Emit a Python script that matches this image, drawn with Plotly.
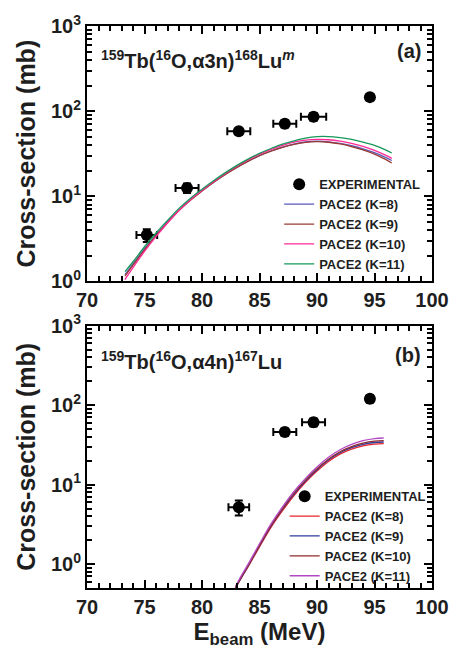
import plotly.graph_objects as go

# ---- panel (a): 159Tb(16O,a3n)168Lu^m ----
a_exp_e = [75.2, 78.7, 83.2, 87.2, 89.7, 94.6]
a_exp_sigma = [3.5, 12.5, 58, 71, 86, 146]
a_exp_dsigma = [0.6, 1.6, 5, 7, 9, 10]
a_exp_de = [0.9, 1.0, 1.0, 1.0, 1.1, 0.3]

a_calc_e = [73.3, 74, 75, 76, 77, 78, 79, 80, 81, 82, 83, 84, 85, 86, 87, 88,
            89, 90, 91, 92, 93, 94, 95, 96, 96.5]
a_k8 = [1.2, 1.6, 2.4, 3.5, 5.0, 6.9, 9.1, 11.6, 14.6, 18.0, 21.8, 25.8, 30.0,
        34.0, 37.8, 41.0, 43.4, 44.3, 43.6, 41.8, 39.2, 36.1, 32.5, 28.4, 26.3]
a_k9 = [1.15, 1.55, 2.35, 3.45, 4.9, 6.8, 9.0, 11.5, 14.5, 17.9, 21.7, 25.7,
        29.9, 33.8, 37.5, 40.6, 42.9, 43.8, 43.1, 41.2, 38.4, 35.1, 31.3, 26.9, 24.6]
a_k10 = [1.05, 1.45, 2.25, 3.35, 4.85, 6.8, 9.1, 11.7, 14.8, 18.4, 22.5, 26.8,
         31.2, 35.5, 39.7, 43.1, 45.6, 46.6, 46.1, 44.4, 41.8, 38.5, 34.6, 30.2, 27.9]
a_k11 = [1.3, 1.7, 2.55, 3.7, 5.2, 7.2, 9.5, 12.1, 15.2, 18.8, 22.9, 27.3,
         31.9, 36.4, 40.9, 44.8, 48.2, 50.2, 50.3, 48.9, 46.5, 43.3, 39.6, 34.9, 32.2]

# ---- panel (b): 159Tb(16O,a4n)167Lu ----
b_exp_e = [83.2, 87.2, 89.7, 94.6]
b_exp_sigma = [5.2, 46, 61, 120]
b_exp_dsigma = [1.1, 5, 7, 13]
b_exp_de = [0.9, 1.0, 1.0, 0.3]

b_calc_e = [82.9, 83.5, 84, 85, 86, 87, 88, 89, 90, 91, 92, 93, 94, 95, 95.8]
b_k8 = [0.5, 0.7, 0.92, 1.65, 2.9, 4.7, 7.3, 10.7, 14.8, 19.6, 24.2, 28.0, 30.8, 32.4, 32.8]
b_k9 = [0.5, 0.71, 0.94, 1.7, 3.0, 4.9, 7.6, 11.1, 15.4, 20.4, 25.2, 29.2, 32.2, 33.9, 34.4]
b_k10 = [0.5, 0.72, 0.95, 1.72, 3.05, 5.0, 7.8, 11.4, 15.8, 20.9, 25.9, 30.1, 33.3, 35.2, 35.7]
b_k11 = [0.52, 0.75, 0.99, 1.8, 3.2, 5.25, 8.2, 12.0, 16.7, 22.1, 27.5, 32.2, 35.8, 38.0, 38.6]

k_labels = ["PACE2 (K=8)", "PACE2 (K=9)", "PACE2 (K=10)", "PACE2 (K=11)"]
a_colors = ["#5858b8", "#9a3b32", "#ff2a95", "#16985a"]
b_colors = ["#e8232b", "#2e3a9e", "#8e2b2b", "#b348c4"]

xticks = [70, 75, 80, 85, 90, 95, 100]
ytick_vals = [1, 10, 100, 1000]
ytick_text = ["10<sup>0</sup>", "10<sup>1</sup>", "10<sup>2</sup>", "10<sup>3</sup>"]
y_minor_vals = [m * 10 ** d for d in range(-1, 3) for m in range(2, 10)]

FONT = "Liberation Sans, Arial, sans-serif"
INK = "#1e1e1e"

fig = go.Figure()


def add_panel(exp_e, exp_s, exp_ds, exp_de, calc_e, curves, colors, xa, ya, leg):
    fig.add_trace(go.Scatter(
        x=exp_e, y=exp_s, mode="markers", name="EXPERIMENTAL",
        marker=dict(color="black", size=12, symbol="circle"),
        error_y=dict(type="data", array=exp_ds, color="black", thickness=2, width=4),
        error_x=dict(type="data", array=exp_de, color="black", thickness=2, width=4),
        xaxis=xa, yaxis=ya, legend=leg,
    ))
    for label, ys, col in zip(k_labels, curves, colors):
        fig.add_trace(go.Scatter(
            x=calc_e, y=ys, mode="lines", name=label,
            line=dict(color=col, width=1.3, shape="spline"),
            xaxis=xa, yaxis=ya, legend=leg,
        ))


add_panel(a_exp_e, a_exp_sigma, a_exp_dsigma, a_exp_de, a_calc_e,
          [a_k8, a_k9, a_k10, a_k11], a_colors, "x", "y", "legend")
add_panel(b_exp_e, b_exp_sigma, b_exp_dsigma, b_exp_de, b_calc_e,
          [b_k8, b_k9, b_k10, b_k11], b_colors, "x2", "y2", "legend2")

# empty traces that register the overlay axes holding the short log ticks
for xa, ya in (("x", "y3"), ("x2", "y4")):
    fig.add_trace(go.Scatter(x=[], y=[], mode="lines", showlegend=False,
                             hoverinfo="skip", xaxis=xa, yaxis=ya))

common_x = dict(
    range=[70, 100], tickvals=xticks, ticks="inside", ticklen=8, tickwidth=2,
    tickcolor="black",
    showline=True, linewidth=2, linecolor="black", mirror="ticks",
    showgrid=False, zeroline=False,
    tickfont=dict(family=FONT, size=20, color=INK, weight="bold"),
    minor=dict(ticks="inside", ticklen=5, tickwidth=2, tickcolor="black",
               dtick=1, showgrid=False),
)
common_y = dict(
    type="log", tickvals=ytick_vals, ticktext=ytick_text, ticks="inside",
    ticklen=8, tickwidth=2, tickcolor="black",
    showline=True, linewidth=2, linecolor="black", mirror="ticks",
    showgrid=False, zeroline=False,
    tickfont=dict(family=FONT, size=20, color=INK, weight="bold"),
    title=dict(text="Cross-section (mb)", standoff=8,
               font=dict(family=FONT, size=25, color=INK, weight="bold")),
)
minor_y = dict(
    type="log", tickmode="array", tickvals=y_minor_vals, ticks="inside",
    ticklen=5, tickwidth=2, tickcolor="black", showticklabels=False,
    showline=False, mirror="ticks", showgrid=False, zeroline=False,
)

legend_font = dict(family=FONT, size=13, color=INK, weight="bold")

fig.update_layout(
    width=461, height=649,
    margin=dict(l=87, r=22, t=20, b=59),
    paper_bgcolor="white", plot_bgcolor="white",
    showlegend=True,
    xaxis=dict(common_x, domain=[0, 1], anchor="y"),
    yaxis=dict(common_y, domain=[0.5456, 1], range=[0, 3], anchor="x"),
    yaxis3=dict(minor_y, overlaying="y", anchor="x", side="left", range=[0, 3]),
    xaxis2=dict(common_x, domain=[0, 1], anchor="y2",
                title=dict(text="E<sub>beam</sub> (MeV)", standoff=2,
                           font=dict(family=FONT, size=24, color=INK, weight="bold"))),
    yaxis2=dict(common_y, domain=[0, 0.4667], range=[-0.30103, 3], anchor="x2"),
    yaxis4=dict(minor_y, overlaying="y2", anchor="x2", side="left",
                range=[-0.30103, 3]),
    legend=dict(x=0.557, y=0.745, xanchor="left", yanchor="top",
                bgcolor="rgba(0,0,0,0)", tracegroupgap=0, font=legend_font),
    legend2=dict(x=0.573, y=0.19, xanchor="left", yanchor="top",
                 bgcolor="rgba(0,0,0,0)", tracegroupgap=0, font=legend_font),
    annotations=[
        dict(text="<sup>159</sup>Tb(<sup>16</sup>O,α3n)<sup>168</sup>Lu<sup><i>m</i></sup>",
             x=0.035, y=0.94, xref="paper", yref="paper", xanchor="left",
             yanchor="middle", showarrow=False,
             font=dict(family=FONT, size=20, color=INK, weight="bold")),
        dict(text="(a)", x=0.975, y=0.955, xref="paper", yref="paper",
             xanchor="right", yanchor="middle", showarrow=False,
             font=dict(family=FONT, size=20, color=INK, weight="bold")),
        dict(text="<sup>159</sup>Tb(<sup>16</sup>O,α4n)<sup>167</sup>Lu",
             x=0.035, y=0.405, xref="paper", yref="paper", xanchor="left",
             yanchor="middle", showarrow=False,
             font=dict(family=FONT, size=20, color=INK, weight="bold")),
        dict(text="(b)", x=0.975, y=0.415, xref="paper", yref="paper",
             xanchor="right", yanchor="middle", showarrow=False,
             font=dict(family=FONT, size=20, color=INK, weight="bold")),
    ],
)

fig.write_html("out.html")
